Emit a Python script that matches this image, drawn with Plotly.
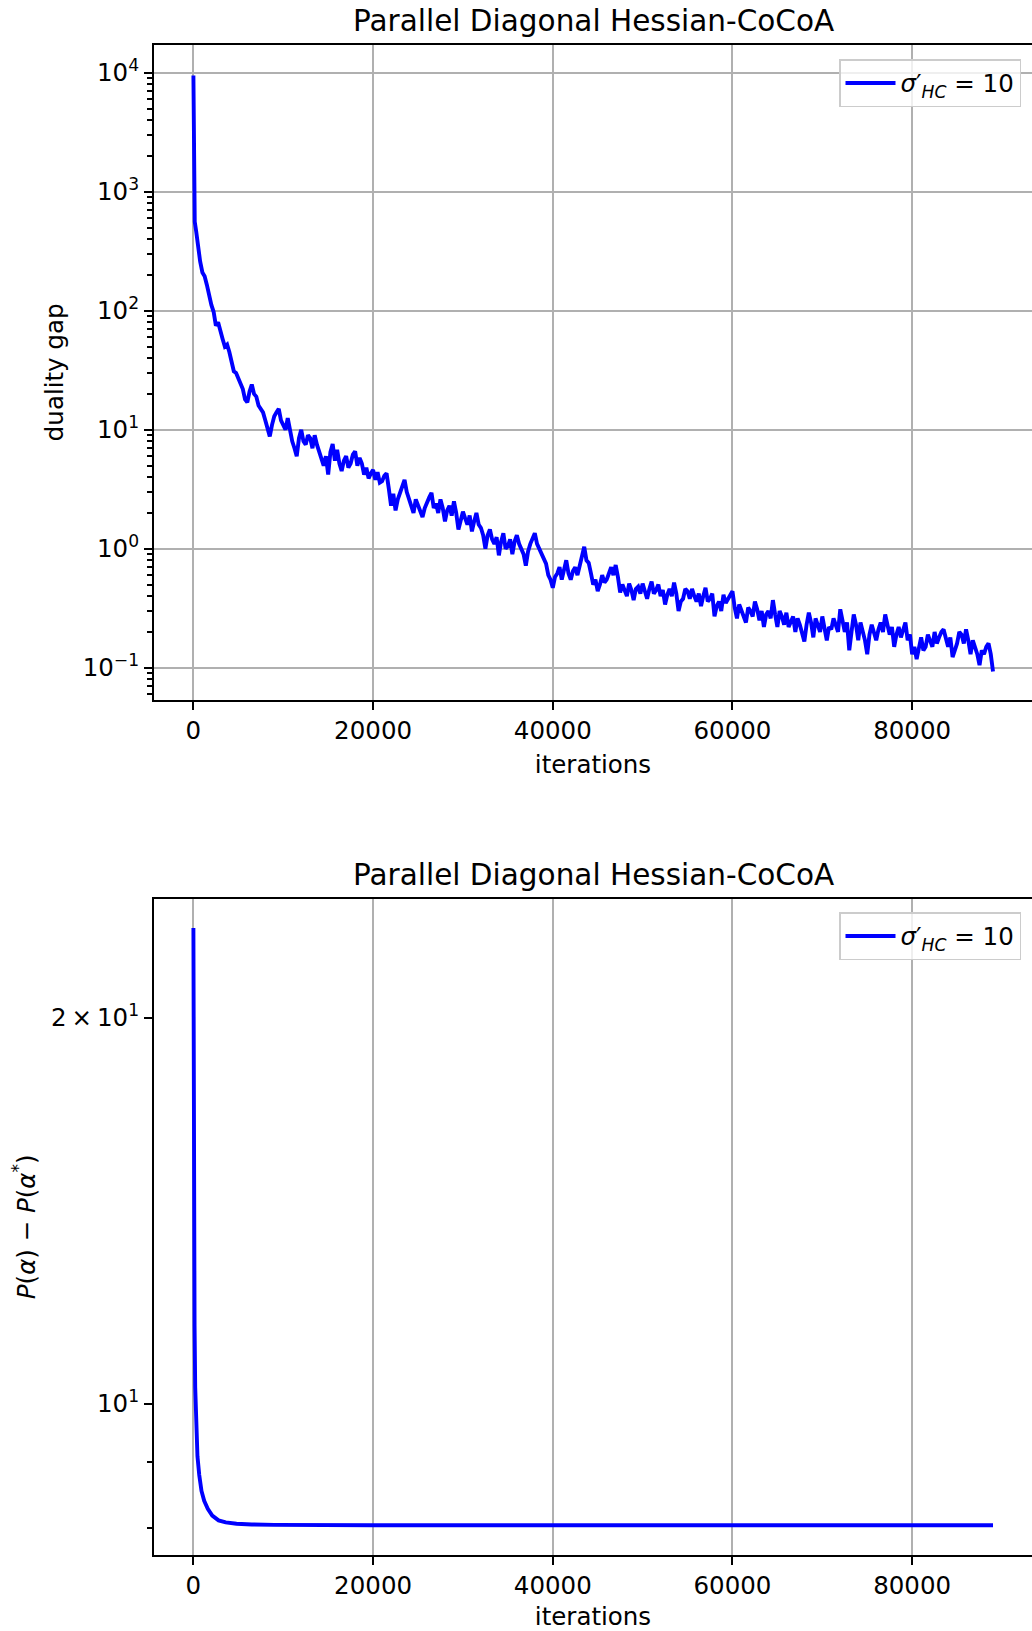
import plotly.graph_objects as go

# ---------------- data ----------------
# duality gap (top panel)
gap_iters_head = [0, 40, 150, 300]
gap_head = [9500, 680, 560, 470]
# readings at iterations 500, 1000, ..., 89000
gap_body = [
    340, 210, 165, 112, 75, 70, 50, 45, 31, 27,
    22, 17, 24, 19, 15, 12, 8.8, 13, 15, 11,
    12.5, 8, 6, 10, 7.5, 8.5, 9, 6.5, 5, 4.2,
    7.6, 6.8, 4.5, 6.0, 5.2, 6.6, 5.8, 4.2, 3.9, 4.6,
    4.4, 3.7, 4.3, 2.3, 2.1, 3.0, 3.8, 2.6, 2.0, 2.3,
    1.85, 2.5, 2.95, 2.4, 2.6, 1.7, 2.3, 2.5, 1.45, 2.05,
    1.6, 1.4, 2.0, 1.5, 1.0, 1.45, 1.1, 0.88, 1.35, 1.05,
    0.9, 1.3, 1.0, 0.72, 1.1, 1.35, 1.0, 0.8, 0.6, 0.47,
    0.62, 0.55, 0.8, 0.55, 0.7, 0.72, 1.04, 0.76, 0.5, 0.44,
    0.6, 0.55, 0.7, 0.73, 0.43, 0.45, 0.51, 0.37, 0.48, 0.51,
    0.38, 0.53, 0.45, 0.4, 0.34, 0.46, 0.52, 0.3, 0.38, 0.44,
    0.46, 0.36, 0.33, 0.47, 0.38, 0.27, 0.36, 0.41, 0.38, 0.44,
    0.26, 0.3, 0.24, 0.3, 0.36, 0.25, 0.22, 0.3, 0.37, 0.22,
    0.27, 0.29, 0.24, 0.2, 0.23, 0.166, 0.29, 0.18, 0.22, 0.27,
    0.17, 0.21, 0.23, 0.31, 0.2, 0.14, 0.28, 0.17, 0.2, 0.13,
    0.23, 0.17, 0.24, 0.28, 0.19, 0.15, 0.22, 0.21, 0.17, 0.13,
    0.118, 0.18, 0.15, 0.17, 0.2, 0.18, 0.21, 0.15, 0.123, 0.16,
    0.19, 0.21, 0.13, 0.15, 0.105, 0.13, 0.16, 0.093,
]
# readings at iterations 750, 1250, ..., 88750
gap_mid = [
    260, 195, 130, 98, 80, 58, 52, 36, 30, 25,
    18, 21, 20, 16, 14, 10, 11, 14, 12, 10,
    9.5, 7, 8.5, 8, 9, 7, 7.5, 5.5, 6, 6.5,
    5.5, 5.2, 5.5, 4.8, 6.2, 5.0, 5.2, 4.8, 4.3, 3.8,
    3.6, 4.1, 3.2, 2.9, 2.6, 3.4, 3.0, 2.4, 2.6, 2.0,
    2.2, 2.7, 2.2, 2.0, 2.2, 2.1, 1.9, 2.0, 1.8, 1.8,
    1.9, 1.7, 1.6, 1.3, 1.3, 1.2, 1.25, 1.15, 1.0, 1.2,
    1.15, 1.1, 0.9, 0.95, 1.2, 1.1, 0.9, 0.75, 0.55, 0.58,
    0.7, 0.65, 0.62, 0.65, 0.6, 0.85, 0.8, 0.62, 0.55, 0.5,
    0.52, 0.62, 0.6, 0.58, 0.5, 0.4, 0.45, 0.46, 0.42, 0.45,
    0.46, 0.42, 0.5, 0.45, 0.41, 0.4, 0.42, 0.36, 0.46, 0.38,
    0.4, 0.42, 0.4, 0.36, 0.42, 0.33, 0.3, 0.35, 0.42, 0.32,
    0.34, 0.27, 0.32, 0.27, 0.31, 0.3, 0.28, 0.26, 0.28, 0.3,
    0.23, 0.22, 0.27, 0.26, 0.2, 0.23, 0.24, 0.26, 0.2, 0.21,
    0.22, 0.26, 0.2, 0.25, 0.24, 0.2, 0.23, 0.24, 0.17, 0.19,
    0.2, 0.21, 0.2, 0.23, 0.22, 0.19, 0.18, 0.24, 0.19, 0.15,
    0.15, 0.14, 0.19, 0.15, 0.16, 0.2, 0.17, 0.18, 0.14, 0.2,
    0.16, 0.17, 0.17, 0.13, 0.14, 0.15, 0.13,
]

gap_iters = list(gap_iters_head)
gap_vals = list(gap_head)
for i, v in enumerate(gap_body):
    gap_iters.append(500 + 500 * i)
    gap_vals.append(v)
    if i < len(gap_mid):
        gap_iters.append(750 + 500 * i)
        gap_vals.append(gap_mid[i])

# primal suboptimality (bottom panel)
obj_iters = [0, 30, 70, 130, 200, 300, 450, 650, 900, 1200, 1600, 2100,
             2800, 3600, 4800, 6500, 9000, 20000, 40000, 60000, 89000]
obj_vals = [23.5, 18, 14, 11.5, 10.3, 9.6, 9.1, 8.8, 8.55, 8.4, 8.28, 8.18,
            8.11, 8.08, 8.06, 8.05, 8.045, 8.04, 8.04, 8.04, 8.04]

x_ticks = [0, 20000, 40000, 60000, 80000]
x_ticktext = ["0", "20000", "40000", "60000", "80000"]
top_yticks = [0.1, 1, 10, 100, 1000, 10000]
top_yticktext = ["10<sup>\u22121</sup>", "10<sup>0</sup>", "10<sup>1</sup>",
                 "10<sup>2</sup>", "10<sup>3</sup>", "10<sup>4</sup>"]
bot_yticks = [10, 20]
bot_yticktext = ["10<sup>1</sup>", "2\u2009\u00d7\u200910<sup>1</sup>"]
bot_minor = [8, 9]

title_text = "Parallel Diagonal Hessian-CoCoA"
legend_label = "<i>\u03c3</i>\u2032<sub><i>HC</i></sub> = 10"

# ---------------- figure ----------------
W, H = 1032, 1631
FONT = "DejaVu Sans"
FS = 24.5
BLUE = "#0000ff"
GRID = "#b0b0b0"
LW = 3.9

top_minor = [d * 10.0 ** e for e in range(-2, 5) for d in range(2, 10)]

fig = go.Figure()
fig.add_trace(go.Scatter(x=gap_iters, y=gap_vals, mode="lines",
                         line=dict(color=BLUE, width=LW),
                         name=legend_label, xaxis="x", yaxis="y",
                         legend="legend"))
fig.add_trace(go.Scatter(x=obj_iters, y=obj_vals, mode="lines",
                         line=dict(color=BLUE, width=LW),
                         name=legend_label, xaxis="x2", yaxis="y2",
                         legend="legend2"))

xdom = [154 / W, 1.0]
xrange_ = [-4386, 93340]

common_x = dict(
    domain=xdom, range=xrange_, tickvals=x_ticks, ticktext=x_ticktext,
    showgrid=True, gridcolor=GRID, gridwidth=2, zeroline=False,
    showline=True, linecolor="black", linewidth=2, mirror=True,
    ticks="outside", ticklen=8, tickwidth=2, tickcolor="black",
    tickfont=dict(family=FONT, size=FS, color="black"),
)
common_y = dict(
    type="log", showline=True, linecolor="black", linewidth=2, mirror=False,
    ticks="outside", ticklen=8, tickwidth=2, tickcolor="black", zeroline=False,
    tickfont=dict(family=FONT, size=FS, color="black"),
)

fig.update_layout(
    width=W, height=H, margin=dict(l=0, r=0, t=0, b=0),
    paper_bgcolor="white", plot_bgcolor="white",
    font=dict(family=FONT, size=FS, color="black"),
    showlegend=True,
    xaxis=dict(anchor="y",
               title=dict(text="iterations", standoff=11,
                          font=dict(family=FONT, size=FS)),
               **common_x),
    xaxis2=dict(anchor="y2",
                title=dict(text="iterations", standoff=11,
                           font=dict(family=FONT, size=FS)),
                **common_x),
    yaxis=dict(anchor="x", domain=[1 - 700 / H, 1 - 44.7 / H],
               range=[-1.271, 4.236], tickvals=top_yticks,
               ticktext=top_yticktext, showgrid=True, gridcolor=GRID,
               gridwidth=2,
               minor=dict(tickmode="array", tickvals=top_minor,
                          ticks="outside", ticklen=5, tickwidth=1.5,
                          tickcolor="black", showgrid=False),
               title=dict(text="duality gap", standoff=12,
                          font=dict(family=FONT, size=FS)),
               **common_y),
    yaxis2=dict(anchor="x2", domain=[1 - 1555 / H, 1 - 898.6 / H],
                range=[0.882, 1.394], tickvals=bot_yticks,
                ticktext=bot_yticktext, showgrid=False,
                minor=dict(tickmode="array", tickvals=bot_minor,
                           ticks="outside", ticklen=5, tickwidth=1.5,
                           tickcolor="black", showgrid=False),
                title=dict(text="<i>P</i>(<i>\u03b1</i>) \u2212 <i>P</i>(<i>\u03b1</i><sup>*</sup>)",
                           standoff=9, font=dict(family=FONT, size=FS)),
                **common_y),
    legend=dict(x=1021 / W, xanchor="right", y=1 - 59 / H, yanchor="top",
                bgcolor="rgba(255,255,255,0.8)", bordercolor="#cccccc",
                borderwidth=1.5, font=dict(family=FONT, size=FS),
                itemwidth=50),
    legend2=dict(x=1021 / W, xanchor="right", y=1 - 912 / H, yanchor="top",
                 bgcolor="rgba(255,255,255,0.8)", bordercolor="#cccccc",
                 borderwidth=1.5, font=dict(family=FONT, size=FS),
                 itemwidth=50),
    annotations=[
        dict(text=title_text, xref="paper", yref="paper", x=593 / W,
             y=1 - 21 / H, xanchor="center", yanchor="middle",
             showarrow=False, font=dict(family=FONT, size=29.5)),
        dict(text=title_text, xref="paper", yref="paper", x=593 / W,
             y=1 - 875 / H, xanchor="center", yanchor="middle",
             showarrow=False, font=dict(family=FONT, size=29.5)),
    ],
    shapes=[
        dict(type="line", xref="x2 domain", yref="y2", x0=0, x1=1,
             y0=1, y1=1, line=dict(color=GRID, width=2), layer="below"),
    ],
)

fig.write_html("out.html")
